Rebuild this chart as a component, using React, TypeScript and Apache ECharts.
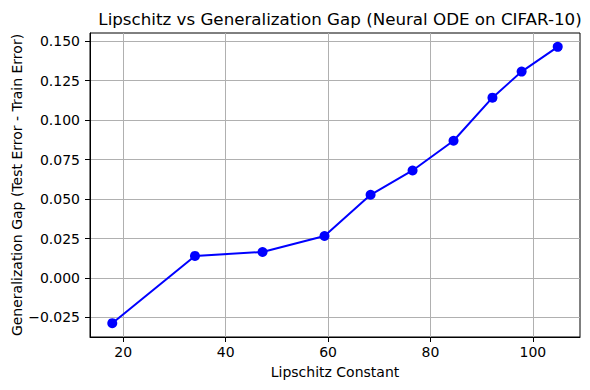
import React, { useEffect, useRef } from "react";
import * as echarts from "echarts";

const lipschitz = [17.85, 34.0, 47.2, 59.3, 68.3, 76.5, 84.5, 92.1, 97.8, 104.85];
const genGap = [-0.0286, 0.014, 0.0165, 0.0266, 0.0527, 0.0681, 0.0869, 0.1142, 0.1307, 0.1464];
const xTicks = [20, 40, 60, 80, 100];
const yTicks = [-0.025, 0, 0.025, 0.05, 0.075, 0.1, 0.125, 0.15];

const FONT = "DejaVu Sans";

export default function App() {
  const ref = useRef<HTMLDivElement>(null);
  useEffect(() => {
    if (!ref.current) return;
    const chart = echarts.init(ref.current, null, { renderer: "svg" });
    const xMin = Math.min(...lipschitz), xMax = Math.max(...lipschitz);
    const yMin = Math.min(...genGap), yMax = Math.max(...genGap);
    const xm = (xMax - xMin) * 0.05, ym = (yMax - yMin) * 0.05;
    chart.setOption({
      animation: false,
      backgroundColor: "#ffffff",
      textStyle: { fontFamily: FONT },
      title: {
        text: "Lipschitz vs Generalization Gap (Neural ODE on CIFAR-10)",
        left: 335,
        textAlign: "center",
        top: 5,
        textStyle: { fontFamily: FONT, fontSize: 16.7, fontWeight: "normal", color: "#000" },
      },
      grid: {
        left: 90, top: 33, width: 490, height: 304,
        containLabel: false, outerBoundsMode: "none",
        show: true, borderColor: "#000", borderWidth: 1, backgroundColor: "transparent",
      },
      xAxis: {
        type: "value",
        min: xMin - xm,
        max: xMax + xm,
        name: "Lipschitz Constant",
        nameLocation: "middle",
        nameGap: 28,
        nameMoveOverlap: false,
        nameTextStyle: { fontFamily: FONT, fontSize: 14, color: "#000" },
        axisLine: { show: true, onZero: false, lineStyle: { color: "#000", width: 1 } },
        axisTick: { show: true, customValues: xTicks, length: 5, lineStyle: { color: "#000" } },
        axisLabel: { customValues: xTicks, margin: 8, fontFamily: FONT, fontSize: 14, color: "#000" },
        splitLine: { show: true, lineStyle: { color: "#b0b0b0", width: 1 } },
      },
      yAxis: {
        type: "value",
        min: yMin - ym,
        max: yMax + ym,
        name: "Generalization Gap (Test Error - Train Error)",
        nameLocation: "middle",
        nameGap: 66,
        nameMoveOverlap: false,
        nameTextStyle: { fontFamily: FONT, fontSize: 14, color: "#000" },
        axisLine: { show: true, onZero: false, lineStyle: { color: "#000", width: 1 } },
        axisTick: { show: true, customValues: yTicks, length: 5, lineStyle: { color: "#000" } },
        axisLabel: {
          customValues: yTicks,
          margin: 10,
          fontFamily: FONT,
          fontSize: 14,
          color: "#000",
          formatter: (v: number) => (v < 0 ? "\u2212" + Math.abs(v).toFixed(3) : v.toFixed(3)),
        },
        splitLine: { show: true, lineStyle: { color: "#b0b0b0", width: 1 } },
      },
      series: [
        {
          type: "line",
          data: lipschitz.map((x, i) => [x, genGap[i]]),
          symbol: "circle",
          symbolSize: 10,
          showSymbol: true,
          lineStyle: { color: "#0000ff", width: 2 },
          itemStyle: { color: "#0000ff" },
        },
      ],
    });
    return () => chart.dispose();
  }, []);
  return <div ref={ref} style={{ position: "fixed", left: 0, top: 0, width: 590, height: 390 }} />;
}
